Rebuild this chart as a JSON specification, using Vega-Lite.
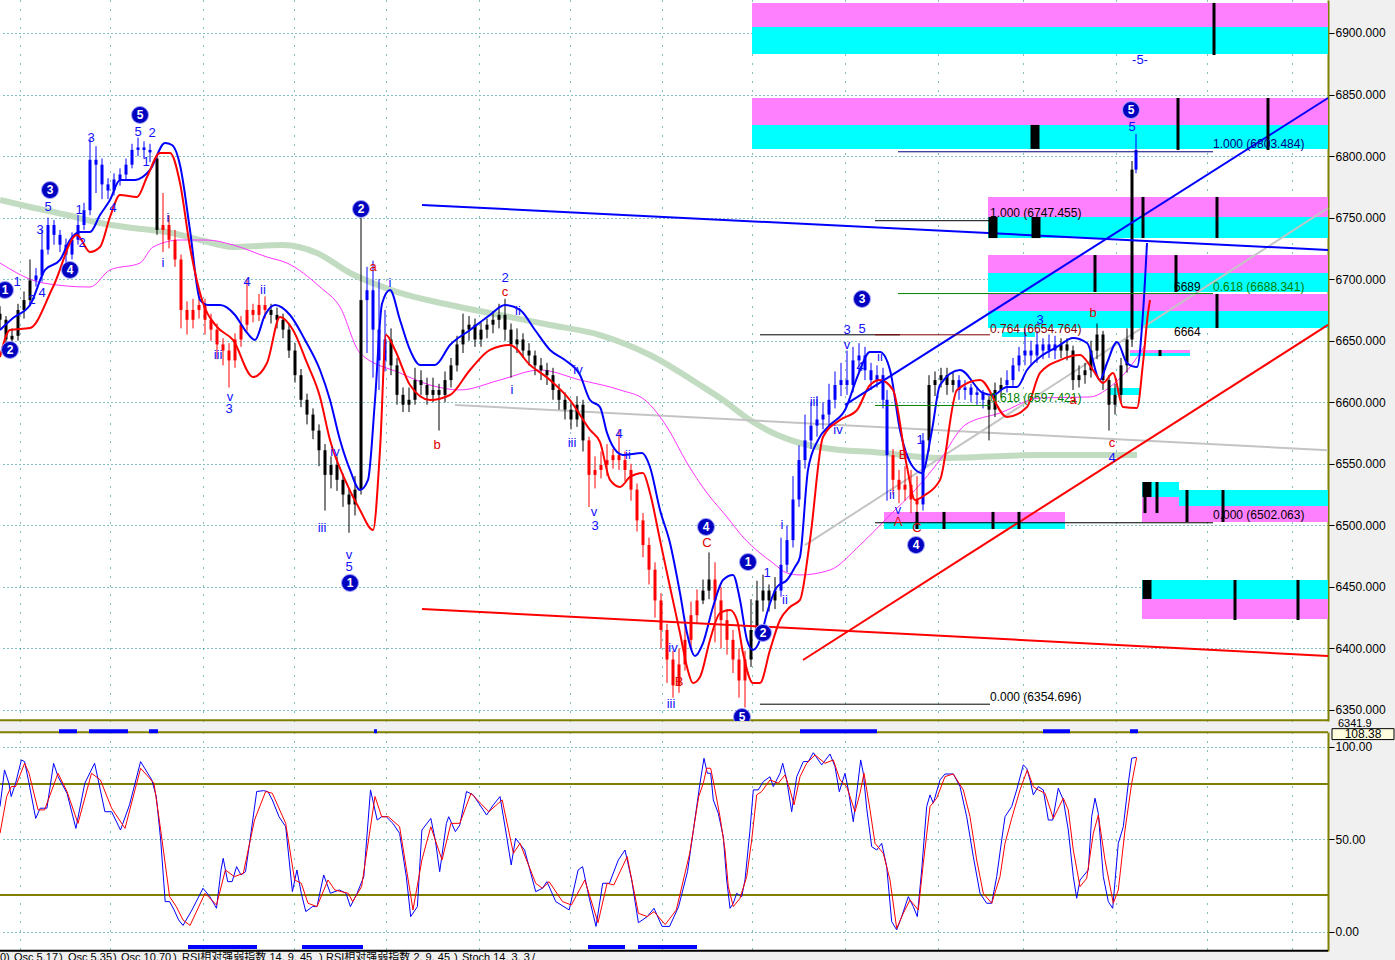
{
"$schema": "https://vega.github.io/schema/vega-lite/v6.json",
"padding": {"left": -12, "top": 0, "right": 0, "bottom": 0},
"background": "#f0f0f0",
"bounds": "flush",
"spacing": 11,
"config": {"view": {"stroke": null, "fill": "white"}, "font": "Liberation Sans"},
"datasets": {
"zones": [
{"t":752,"t2":1328,"v":6904.9,"v2":6924.4,"k":"m"},
{"t":752,"t2":1328,"v":6882.9,"v2":6904.9,"k":"c"},
{"t":752,"t2":1328,"v":6825.3,"v2":6847.2,"k":"m"},
{"t":752,"t2":1328,"v":6805.8,"v2":6825.3,"k":"c"},
{"t":988,"t2":1328,"v":6750.5,"v2":6766.8,"k":"m"},
{"t":988,"t2":1328,"v":6733.4,"v2":6750.5,"k":"c"},
{"t":988,"t2":1328,"v":6705.0,"v2":6719.6,"k":"m"},
{"t":988,"t2":1328,"v":6689.6,"v2":6705.0,"k":"c"},
{"t":988,"t2":1328,"v":6674.1,"v2":6688.0,"k":"m"},
{"t":988,"t2":1328,"v":6660.3,"v2":6674.1,"k":"c"},
{"t":1002,"t2":1035,"v":6653.0,"v2":6657.1,"k":"c"},
{"t":1130,"t2":1190,"v":6640.0,"v2":6642.5,"k":"m"},
{"t":1130,"t2":1190,"v":6637.6,"v2":6640.0,"k":"c"},
{"t":1110,"t2":1140,"v":6605.9,"v2":6611.6,"k":"c"},
{"t":1142,"t2":1179,"v":6523.0,"v2":6535.2,"k":"c"},
{"t":1142,"t2":1179,"v":6502.7,"v2":6523.0,"k":"m"},
{"t":1179,"t2":1328,"v":6515.7,"v2":6528.7,"k":"c"},
{"t":1179,"t2":1328,"v":6502.7,"v2":6515.7,"k":"m"},
{"t":884,"t2":1065,"v":6502.7,"v2":6510.9,"k":"m"},
{"t":884,"t2":1065,"v":6497.0,"v2":6502.7,"k":"c"},
{"t":1142,"t2":1328,"v":6440.2,"v2":6455.6,"k":"c"},
{"t":1142,"t2":1328,"v":6423.9,"v2":6440.2,"k":"m"}
],
"ma": [
{"s":"fast","t":0,"v":6658.7},{"s":"fast","t":13,"v":6668.5},{"s":"fast","t":30,"v":6679},{"s":"fast","t":45,"v":6707.5},{"s":"fast","t":60,"v":6715.6},{"s":"fast","t":70,"v":6731.8},{"s":"fast","t":80,"v":6738.3},{"s":"fast","t":90,"v":6738.3},{"s":"fast","t":100,"v":6752.1},{"s":"fast","t":110,"v":6764.3},{"s":"fast","t":120,"v":6780.6},{"s":"fast","t":135,"v":6780.6},{"s":"fast","t":150,"v":6788.7},{"s":"fast","t":165,"v":6810.6},{"s":"fast","t":172,"v":6809},{"s":"fast","t":180,"v":6792.8},{"s":"fast","t":190,"v":6739.9},{"s":"fast","t":200,"v":6683.1},{"s":"fast","t":208,"v":6679},{"s":"fast","t":220,"v":6679},{"s":"fast","t":235,"v":6670.9},{"s":"fast","t":245,"v":6658.7},{"s":"fast","t":255,"v":6650.6},{"s":"fast","t":265,"v":6670.9},{"s":"fast","t":275,"v":6679},{"s":"fast","t":290,"v":6670.9},{"s":"fast","t":305,"v":6650.6},{"s":"fast","t":320,"v":6626.2},{"s":"fast","t":330,"v":6601.8},{"s":"fast","t":340,"v":6569.3},{"s":"fast","t":350,"v":6545},{"s":"fast","t":360,"v":6528.7},{"s":"fast","t":368,"v":6536.9},{"s":"fast","t":375,"v":6601.8},{"s":"fast","t":382,"v":6680},{"s":"fast","t":390,"v":6691.2},{"s":"fast","t":400,"v":6666.8},{"s":"fast","t":410,"v":6642.5},{"s":"fast","t":420,"v":6630.3},{"s":"fast","t":435,"v":6630.3},{"s":"fast","t":450,"v":6646.5},{"s":"fast","t":470,"v":6658.7},{"s":"fast","t":490,"v":6670.9},{"s":"fast","t":505,"v":6679},{"s":"fast","t":520,"v":6675},{"s":"fast","t":535,"v":6658.7},{"s":"fast","t":550,"v":6642.5},{"s":"fast","t":565,"v":6634.3},{"s":"fast","t":580,"v":6622.1},{"s":"fast","t":590,"v":6601.8},{"s":"fast","t":600,"v":6596.1},{"s":"fast","t":607,"v":6575.1},{"s":"fast","t":617,"v":6559.6},{"s":"fast","t":623,"v":6557.2},{"s":"fast","t":642,"v":6558.8},{"s":"fast","t":650,"v":6547.4},{"s":"fast","t":660,"v":6512.5},{"s":"fast","t":670,"v":6485.7},{"s":"fast","t":680,"v":6445},{"s":"fast","t":687,"v":6412.6},{"s":"fast","t":695,"v":6393.9},{"s":"fast","t":703,"v":6404.4},{"s":"fast","t":713,"v":6433.7},{"s":"fast","t":723,"v":6455.6},{"s":"fast","t":733,"v":6459.7},{"s":"fast","t":740,"v":6439.4},{"s":"fast","t":747,"v":6406.9},{"s":"fast","t":753,"v":6398.7},{"s":"fast","t":760,"v":6406.9},{"s":"fast","t":767,"v":6428.8},{"s":"fast","t":777,"v":6449.9},{"s":"fast","t":787,"v":6455.6},{"s":"fast","t":795,"v":6466.2},{"s":"fast","t":800,"v":6474.3},{"s":"fast","t":808,"v":6545},{"s":"fast","t":818,"v":6569.3},{"s":"fast","t":830,"v":6581.5},{"s":"fast","t":845,"v":6593.7},{"s":"fast","t":858,"v":6622.1},{"s":"fast","t":870,"v":6640.8},{"s":"fast","t":880,"v":6640.8},{"s":"fast","t":890,"v":6626.2},{"s":"fast","t":900,"v":6577.5},{"s":"fast","t":913,"v":6547.4},{"s":"fast","t":922,"v":6542.5},{"s":"fast","t":932,"v":6577.5},{"s":"fast","t":940,"v":6614},{"s":"fast","t":960,"v":6626.2},{"s":"fast","t":983,"v":6607.5},{"s":"fast","t":993,"v":6605.9},{"s":"fast","t":1007,"v":6612.4},{"s":"fast","t":1017,"v":6612.4},{"s":"fast","t":1027,"v":6626.2},{"s":"fast","t":1040,"v":6636.8},{"s":"fast","t":1057,"v":6644.9},{"s":"fast","t":1073,"v":6652.2},{"s":"fast","t":1087,"v":6648.1},{"s":"fast","t":1100,"v":6618.1},{"s":"fast","t":1107,"v":6631.9},{"s":"fast","t":1117,"v":6649},{"s":"fast","t":1127,"v":6631.9},{"s":"fast","t":1137,"v":6628.6},{"s":"fast","t":1143,"v":6672.5},{"s":"fast","t":1147,"v":6729.4},
{"s":"slow","t":0,"v":6636.8},{"s":"slow","t":10,"v":6658.7},{"s":"slow","t":30,"v":6660.3},{"s":"slow","t":53,"v":6693.6},{"s":"slow","t":77,"v":6735.9},{"s":"slow","t":90,"v":6722.1},{"s":"slow","t":100,"v":6726.1},{"s":"slow","t":110,"v":6750.5},{"s":"slow","t":120,"v":6768.4},{"s":"slow","t":137,"v":6766.8},{"s":"slow","t":147,"v":6783},{"s":"slow","t":160,"v":6802.5},{"s":"slow","t":170,"v":6802.5},{"s":"slow","t":180,"v":6778.1},{"s":"slow","t":190,"v":6726.1},{"s":"slow","t":203,"v":6680.6},{"s":"slow","t":217,"v":6661.2},{"s":"slow","t":233,"v":6650.6},{"s":"slow","t":253,"v":6620.5},{"s":"slow","t":267,"v":6631.9},{"s":"slow","t":280,"v":6669.3},{"s":"slow","t":293,"v":6658.7},{"s":"slow","t":307,"v":6631.9},{"s":"slow","t":320,"v":6604.3},{"s":"slow","t":330,"v":6569.3},{"s":"slow","t":345,"v":6536.9},{"s":"slow","t":360,"v":6512.5},{"s":"slow","t":373,"v":6496.2},{"s":"slow","t":380,"v":6561.2},{"s":"slow","t":386,"v":6654.6},{"s":"slow","t":395,"v":6642.5},{"s":"slow","t":410,"v":6614},{"s":"slow","t":430,"v":6601.8},{"s":"slow","t":450,"v":6605.9},{"s":"slow","t":470,"v":6626.2},{"s":"slow","t":490,"v":6642.5},{"s":"slow","t":510,"v":6646.5},{"s":"slow","t":530,"v":6630.3},{"s":"slow","t":550,"v":6618.1},{"s":"slow","t":570,"v":6601.8},{"s":"slow","t":590,"v":6577.5},{"s":"slow","t":600,"v":6567.7},{"s":"slow","t":610,"v":6536.9},{"s":"slow","t":620,"v":6531.2},{"s":"slow","t":630,"v":6539.3},{"s":"slow","t":643,"v":6542.5},{"s":"slow","t":650,"v":6526.3},{"s":"slow","t":660,"v":6488.1},{"s":"slow","t":670,"v":6449.9},{"s":"slow","t":680,"v":6412.6},{"s":"slow","t":687,"v":6384.9},{"s":"slow","t":693,"v":6371.9},{"s":"slow","t":700,"v":6376.8},{"s":"slow","t":710,"v":6406.9},{"s":"slow","t":720,"v":6428.8},{"s":"slow","t":730,"v":6431.2},{"s":"slow","t":737,"v":6423.1},{"s":"slow","t":743,"v":6396.3},{"s":"slow","t":753,"v":6371.9},{"s":"slow","t":760,"v":6371.9},{"s":"slow","t":770,"v":6398.7},{"s":"slow","t":780,"v":6423.1},{"s":"slow","t":790,"v":6433.7},{"s":"slow","t":800,"v":6439.4},{"s":"slow","t":810,"v":6488.1},{"s":"slow","t":823,"v":6571.8},{"s":"slow","t":840,"v":6585.6},{"s":"slow","t":857,"v":6593.7},{"s":"slow","t":870,"v":6614},{"s":"slow","t":880,"v":6618.1},{"s":"slow","t":893,"v":6610},{"s":"slow","t":907,"v":6547.4},{"s":"slow","t":915,"v":6520.6},{"s":"slow","t":925,"v":6524.7},{"s":"slow","t":940,"v":6536.9},{"s":"slow","t":957,"v":6610},{"s":"slow","t":980,"v":6618.1},{"s":"slow","t":1007,"v":6588},{"s":"slow","t":1027,"v":6596.2},{"s":"slow","t":1040,"v":6623.8},{"s":"slow","t":1060,"v":6634.3},{"s":"slow","t":1080,"v":6638.4},{"s":"slow","t":1093,"v":6626.2},{"s":"slow","t":1103,"v":6615.7},{"s":"slow","t":1113,"v":6623.8},{"s":"slow","t":1123,"v":6596.2},{"s":"slow","t":1137,"v":6595.3},{"s":"slow","t":1143,"v":6631.9},{"s":"slow","t":1148,"v":6672.5},{"s":"slow","t":1150,"v":6683.1},
{"s":"mid","t":0,"v":6713.1},{"s":"mid","t":43,"v":6696.9},{"s":"mid","t":90,"v":6693.6},{"s":"mid","t":110,"v":6707.5},{"s":"mid","t":140,"v":6713.1},{"s":"mid","t":153,"v":6726.1},{"s":"mid","t":180,"v":6731.8},{"s":"mid","t":207,"v":6731.8},{"s":"mid","t":233,"v":6727.8},{"s":"mid","t":267,"v":6718},{"s":"mid","t":287,"v":6713.1},{"s":"mid","t":320,"v":6693.6},{"s":"mid","t":340,"v":6677.4},{"s":"mid","t":360,"v":6640},{"s":"mid","t":400,"v":6623.8},{"s":"mid","t":430,"v":6614},{"s":"mid","t":460,"v":6610},{"s":"mid","t":500,"v":6618.1},{"s":"mid","t":540,"v":6626.2},{"s":"mid","t":580,"v":6618.1},{"s":"mid","t":620,"v":6610},{"s":"mid","t":645,"v":6601.8},{"s":"mid","t":667,"v":6579.9},{"s":"mid","t":687,"v":6550.7},{"s":"mid","t":707,"v":6526.3},{"s":"mid","t":727,"v":6506.8},{"s":"mid","t":743,"v":6490.5},{"s":"mid","t":760,"v":6477.5},{"s":"mid","t":773,"v":6469.4},{"s":"mid","t":787,"v":6461.3},{"s":"mid","t":800,"v":6459.7},{"s":"mid","t":830,"v":6463.7},{"s":"mid","t":860,"v":6484},{"s":"mid","t":890,"v":6508.4},{"s":"mid","t":915,"v":6528.7},{"s":"mid","t":940,"v":6553.1},{"s":"mid","t":965,"v":6581.5},{"s":"mid","t":1000,"v":6591.3},{"s":"mid","t":1040,"v":6603.5},{"s":"mid","t":1090,"v":6604.3},{"s":"mid","t":1110,"v":6612.4},{"s":"mid","t":1130,"v":6628.6},{"s":"mid","t":1145,"v":6646.5},
{"s":"long","t":0,"v":6764.3},{"s":"long","t":30,"v":6758.6},{"s":"long","t":67,"v":6752.1},{"s":"long","t":100,"v":6745.6},{"s":"long","t":133,"v":6741.6},{"s":"long","t":167,"v":6738.3},{"s":"long","t":200,"v":6731.8},{"s":"long","t":233,"v":6726.1},{"s":"long","t":283,"v":6727.8},{"s":"long","t":317,"v":6721.3},{"s":"long","t":350,"v":6705},{"s":"long","t":383,"v":6693.6},{"s":"long","t":400,"v":6688.8},{"s":"long","t":450,"v":6679},{"s":"long","t":500,"v":6670.9},{"s":"long","t":550,"v":6662.8},{"s":"long","t":600,"v":6654.6},{"s":"long","t":650,"v":6638.4},{"s":"long","t":700,"v":6614},{"s":"long","t":723,"v":6601.8},{"s":"long","t":750,"v":6585.6},{"s":"long","t":773,"v":6575},{"s":"long","t":800,"v":6566.9},{"s":"long","t":840,"v":6561.2},{"s":"long","t":873,"v":6559.6},{"s":"long","t":940,"v":6554.7},{"s":"long","t":1040,"v":6557.1},{"s":"long","t":1137,"v":6557.1}
],
"candles": [
{"t":0,"o":6672,"c":6667,"v":6660,"v2":6678,"g":"n"},
{"t":6,"o":6667,"c":6651,"v":6645,"v2":6670,"g":"n"},
{"t":12,"o":6651,"c":6654,"v":6640,"v2":6660,"g":"n"},
{"t":18,"o":6654,"c":6675,"v":6650,"v2":6680,"g":"n"},
{"t":24,"o":6675,"c":6683,"v":6668,"v2":6690,"g":"n"},
{"t":30,"o":6683,"c":6699,"v":6678,"v2":6716,"g":"n"},
{"t":36,"o":6699,"c":6703,"v":6694,"v2":6709,"g":"u"},
{"t":42,"o":6703,"c":6724,"v":6698,"v2":6740,"g":"u"},
{"t":48,"o":6724,"c":6744,"v":6720,"v2":6750,"g":"u"},
{"t":54,"o":6744,"c":6736,"v":6728,"v2":6748,"g":"u"},
{"t":60,"o":6736,"c":6728,"v":6722,"v2":6740,"g":"u"},
{"t":66,"o":6728,"c":6720,"v":6712,"v2":6733,"g":"u"},
{"t":72,"o":6720,"c":6732,"v":6716,"v2":6738,"g":"u"},
{"t":78,"o":6732,"c":6744,"v":6728,"v2":6752,"g":"u"},
{"t":84,"o":6744,"c":6756,"v":6740,"v2":6762,"g":"u"},
{"t":90,"o":6756,"c":6797,"v":6752,"v2":6815,"g":"u"},
{"t":96,"o":6797,"c":6793,"v":6770,"v2":6808,"g":"u"},
{"t":102,"o":6793,"c":6777,"v":6765,"v2":6798,"g":"u"},
{"t":108,"o":6777,"c":6772,"v":6765,"v2":6782,"g":"u"},
{"t":114,"o":6772,"c":6781,"v":6768,"v2":6786,"g":"u"},
{"t":120,"o":6781,"c":6785,"v":6776,"v2":6790,"g":"u"},
{"t":126,"o":6785,"c":6793,"v":6780,"v2":6798,"g":"u"},
{"t":132,"o":6793,"c":6805,"v":6790,"v2":6810,"g":"u"},
{"t":138,"o":6805,"c":6807,"v":6800,"v2":6815,"g":"u"},
{"t":144,"o":6807,"c":6805,"v":6798,"v2":6812,"g":"u"},
{"t":150,"o":6805,"c":6803,"v":6795,"v2":6810,"g":"u"},
{"t":157,"o":6798,"c":6740,"v":6736,"v2":6800,"g":"n"},
{"t":163,"o":6740,"c":6744,"v":6722,"v2":6770,"g":"d"},
{"t":169,"o":6744,"c":6732,"v":6725,"v2":6752,"g":"d"},
{"t":175,"o":6732,"c":6716,"v":6710,"v2":6740,"g":"d"},
{"t":181,"o":6716,"c":6675,"v":6660,"v2":6720,"g":"d"},
{"t":187,"o":6675,"c":6667,"v":6655,"v2":6682,"g":"d"},
{"t":193,"o":6667,"c":6675,"v":6660,"v2":6684,"g":"d"},
{"t":199,"o":6675,"c":6679,"v":6668,"v2":6688,"g":"d"},
{"t":205,"o":6679,"c":6667,"v":6655,"v2":6684,"g":"d"},
{"t":211,"o":6667,"c":6659,"v":6650,"v2":6672,"g":"d"},
{"t":217,"o":6659,"c":6647,"v":6635,"v2":6664,"g":"d"},
{"t":223,"o":6647,"c":6642,"v":6630,"v2":6652,"g":"d"},
{"t":229,"o":6642,"c":6634,"v":6612,"v2":6648,"g":"d"},
{"t":235,"o":6634,"c":6651,"v":6628,"v2":6656,"g":"d"},
{"t":241,"o":6651,"c":6663,"v":6645,"v2":6670,"g":"d"},
{"t":247,"o":6663,"c":6675,"v":6658,"v2":6700,"g":"d"},
{"t":253,"o":6675,"c":6671,"v":6665,"v2":6680,"g":"d"},
{"t":259,"o":6671,"c":6679,"v":6666,"v2":6688,"g":"d"},
{"t":265,"o":6679,"c":6675,"v":6668,"v2":6686,"g":"d"},
{"t":271,"o":6675,"c":6671,"v":6664,"v2":6680,"g":"n"},
{"t":277,"o":6671,"c":6667,"v":6660,"v2":6677,"g":"n"},
{"t":283,"o":6667,"c":6659,"v":6652,"v2":6672,"g":"n"},
{"t":289,"o":6659,"c":6642,"v":6636,"v2":6664,"g":"n"},
{"t":295,"o":6642,"c":6622,"v":6616,"v2":6648,"g":"n"},
{"t":301,"o":6622,"c":6602,"v":6596,"v2":6627,"g":"n"},
{"t":307,"o":6602,"c":6590,"v":6582,"v2":6607,"g":"n"},
{"t":313,"o":6590,"c":6577,"v":6570,"v2":6595,"g":"n"},
{"t":319,"o":6577,"c":6561,"v":6548,"v2":6582,"g":"n"},
{"t":325,"o":6561,"c":6541,"v":6512,"v2":6566,"g":"n"},
{"t":331,"o":6541,"c":6549,"v":6530,"v2":6556,"g":"n"},
{"t":337,"o":6549,"c":6537,"v":6528,"v2":6556,"g":"n"},
{"t":343,"o":6537,"c":6525,"v":6515,"v2":6542,"g":"n"},
{"t":349,"o":6525,"c":6517,"v":6494,"v2":6530,"g":"n"},
{"t":355,"o":6517,"c":6529,"v":6508,"v2":6540,"g":"n"},
{"t":361,"o":6529,"c":6683,"v":6525,"v2":6752,"g":"n"},
{"t":367,"o":6683,"c":6691,"v":6640,"v2":6710,"g":"u"},
{"t":373,"o":6691,"c":6659,"v":6620,"v2":6715,"g":"u"},
{"t":379,"o":6659,"c":6634,"v":6610,"v2":6700,"g":"u"},
{"t":385,"o":6634,"c":6651,"v":6625,"v2":6675,"g":"u"},
{"t":391,"o":6651,"c":6630,"v":6622,"v2":6660,"g":"n"},
{"t":397,"o":6630,"c":6606,"v":6598,"v2":6636,"g":"n"},
{"t":403,"o":6606,"c":6598,"v":6592,"v2":6612,"g":"n"},
{"t":409,"o":6598,"c":6602,"v":6592,"v2":6612,"g":"n"},
{"t":415,"o":6602,"c":6618,"v":6598,"v2":6628,"g":"n"},
{"t":421,"o":6618,"c":6614,"v":6606,"v2":6626,"g":"n"},
{"t":427,"o":6614,"c":6606,"v":6598,"v2":6620,"g":"n"},
{"t":433,"o":6606,"c":6610,"v":6600,"v2":6620,"g":"n"},
{"t":439,"o":6610,"c":6606,"v":6577,"v2":6615,"g":"n"},
{"t":445,"o":6606,"c":6618,"v":6600,"v2":6625,"g":"n"},
{"t":451,"o":6618,"c":6630,"v":6612,"v2":6636,"g":"n"},
{"t":457,"o":6630,"c":6647,"v":6625,"v2":6654,"g":"n"},
{"t":463,"o":6647,"c":6659,"v":6640,"v2":6672,"g":"n"},
{"t":469,"o":6659,"c":6663,"v":6650,"v2":6670,"g":"n"},
{"t":475,"o":6663,"c":6651,"v":6645,"v2":6668,"g":"n"},
{"t":481,"o":6651,"c":6659,"v":6645,"v2":6665,"g":"n"},
{"t":487,"o":6659,"c":6663,"v":6652,"v2":6668,"g":"n"},
{"t":493,"o":6663,"c":6667,"v":6656,"v2":6674,"g":"n"},
{"t":499,"o":6667,"c":6671,"v":6660,"v2":6680,"g":"n"},
{"t":505,"o":6671,"c":6659,"v":6650,"v2":6684,"g":"n"},
{"t":511,"o":6659,"c":6647,"v":6620,"v2":6664,"g":"n"},
{"t":517,"o":6647,"c":6651,"v":6640,"v2":6660,"g":"n"},
{"t":523,"o":6651,"c":6642,"v":6636,"v2":6656,"g":"n"},
{"t":529,"o":6642,"c":6638,"v":6630,"v2":6648,"g":"n"},
{"t":535,"o":6638,"c":6630,"v":6622,"v2":6642,"g":"n"},
{"t":541,"o":6630,"c":6626,"v":6618,"v2":6636,"g":"n"},
{"t":547,"o":6626,"c":6622,"v":6614,"v2":6632,"g":"n"},
{"t":553,"o":6622,"c":6610,"v":6602,"v2":6628,"g":"n"},
{"t":559,"o":6610,"c":6602,"v":6594,"v2":6615,"g":"n"},
{"t":565,"o":6602,"c":6594,"v":6586,"v2":6608,"g":"n"},
{"t":571,"o":6594,"c":6586,"v":6578,"v2":6600,"g":"n"},
{"t":577,"o":6586,"c":6598,"v":6580,"v2":6605,"g":"n"},
{"t":583,"o":6598,"c":6569,"v":6560,"v2":6602,"g":"n"},
{"t":589,"o":6569,"c":6541,"v":6515,"v2":6572,"g":"d"},
{"t":595,"o":6541,"c":6545,"v":6530,"v2":6556,"g":"d"},
{"t":601,"o":6545,"c":6549,"v":6538,"v2":6560,"g":"d"},
{"t":607,"o":6549,"c":6553,"v":6540,"v2":6566,"g":"d"},
{"t":613,"o":6553,"c":6557,"v":6546,"v2":6562,"g":"d"},
{"t":619,"o":6557,"c":6553,"v":6545,"v2":6578,"g":"d"},
{"t":625,"o":6553,"c":6545,"v":6536,"v2":6560,"g":"d"},
{"t":631,"o":6545,"c":6529,"v":6520,"v2":6550,"g":"d"},
{"t":637,"o":6529,"c":6504,"v":6495,"v2":6534,"g":"d"},
{"t":643,"o":6504,"c":6484,"v":6474,"v2":6510,"g":"d"},
{"t":649,"o":6484,"c":6464,"v":6452,"v2":6490,"g":"d"},
{"t":655,"o":6464,"c":6439,"v":6425,"v2":6470,"g":"d"},
{"t":661,"o":6439,"c":6415,"v":6400,"v2":6445,"g":"d"},
{"t":667,"o":6415,"c":6391,"v":6372,"v2":6420,"g":"d"},
{"t":673,"o":6391,"c":6370,"v":6360,"v2":6398,"g":"d"},
{"t":679,"o":6370,"c":6387,"v":6364,"v2":6400,"g":"d"},
{"t":685,"o":6387,"c":6407,"v":6382,"v2":6420,"g":"d"},
{"t":691,"o":6407,"c":6427,"v":6400,"v2":6438,"g":"d"},
{"t":697,"o":6427,"c":6439,"v":6420,"v2":6448,"g":"d"},
{"t":703,"o":6439,"c":6447,"v":6436,"v2":6456,"g":"n"},
{"t":709,"o":6447,"c":6456,"v":6440,"v2":6478,"g":"n"},
{"t":715,"o":6456,"c":6439,"v":6405,"v2":6470,"g":"d"},
{"t":721,"o":6439,"c":6423,"v":6400,"v2":6450,"g":"d"},
{"t":727,"o":6423,"c":6407,"v":6395,"v2":6432,"g":"d"},
{"t":733,"o":6407,"c":6391,"v":6380,"v2":6415,"g":"d"},
{"t":739,"o":6391,"c":6374,"v":6360,"v2":6400,"g":"d"},
{"t":745,"o":6374,"c":6391,"v":6352,"v2":6398,"g":"d"},
{"t":751,"o":6391,"c":6415,"v":6385,"v2":6440,"g":"n"},
{"t":757,"o":6415,"c":6439,"v":6410,"v2":6455,"g":"n"},
{"t":763,"o":6439,"c":6447,"v":6430,"v2":6460,"g":"n"},
{"t":769,"o":6447,"c":6439,"v":6430,"v2":6452,"g":"n"},
{"t":775,"o":6439,"c":6447,"v":6432,"v2":6458,"g":"n"},
{"t":781,"o":6447,"c":6468,"v":6442,"v2":6490,"g":"u"},
{"t":787,"o":6468,"c":6488,"v":6462,"v2":6500,"g":"u"},
{"t":793,"o":6488,"c":6521,"v":6482,"v2":6540,"g":"u"},
{"t":799,"o":6521,"c":6553,"v":6515,"v2":6565,"g":"u"},
{"t":805,"o":6553,"c":6569,"v":6546,"v2":6590,"g":"u"},
{"t":811,"o":6569,"c":6581,"v":6562,"v2":6600,"g":"u"},
{"t":817,"o":6581,"c":6586,"v":6572,"v2":6605,"g":"u"},
{"t":823,"o":6586,"c":6590,"v":6578,"v2":6600,"g":"u"},
{"t":829,"o":6590,"c":6602,"v":6580,"v2":6615,"g":"u"},
{"t":835,"o":6602,"c":6614,"v":6595,"v2":6625,"g":"u"},
{"t":841,"o":6614,"c":6618,"v":6605,"v2":6632,"g":"u"},
{"t":847,"o":6618,"c":6614,"v":6606,"v2":6642,"g":"u"},
{"t":853,"o":6614,"c":6634,"v":6608,"v2":6645,"g":"u"},
{"t":859,"o":6634,"c":6638,"v":6625,"v2":6648,"g":"u"},
{"t":865,"o":6638,"c":6626,"v":6618,"v2":6645,"g":"u"},
{"t":871,"o":6626,"c":6618,"v":6610,"v2":6632,"g":"u"},
{"t":877,"o":6618,"c":6622,"v":6612,"v2":6630,"g":"u"},
{"t":883,"o":6622,"c":6602,"v":6595,"v2":6628,"g":"u"},
{"t":887,"o":6602,"c":6557,"v":6520,"v2":6610,"g":"u"},
{"t":893,"o":6557,"c":6537,"v":6525,"v2":6562,"g":"d"},
{"t":899,"o":6537,"c":6529,"v":6518,"v2":6545,"g":"d"},
{"t":905,"o":6529,"c":6533,"v":6520,"v2":6548,"g":"d"},
{"t":911,"o":6533,"c":6521,"v":6510,"v2":6545,"g":"d"},
{"t":917,"o":6521,"c":6517,"v":6498,"v2":6540,"g":"d"},
{"t":923,"o":6517,"c":6569,"v":6512,"v2":6575,"g":"u"},
{"t":929,"o":6569,"c":6614,"v":6560,"v2":6622,"g":"n"},
{"t":935,"o":6614,"c":6618,"v":6605,"v2":6625,"g":"n"},
{"t":941,"o":6618,"c":6622,"v":6612,"v2":6628,"g":"n"},
{"t":947,"o":6622,"c":6614,"v":6606,"v2":6628,"g":"n"},
{"t":953,"o":6614,"c":6618,"v":6608,"v2":6624,"g":"n"},
{"t":959,"o":6618,"c":6610,"v":6602,"v2":6622,"g":"u"},
{"t":965,"o":6610,"c":6612,"v":6602,"v2":6618,"g":"u"},
{"t":971,"o":6612,"c":6606,"v":6600,"v2":6615,"g":"u"},
{"t":977,"o":6606,"c":6608,"v":6598,"v2":6612,"g":"u"},
{"t":983,"o":6608,"c":6602,"v":6595,"v2":6610,"g":"u"},
{"t":989,"o":6602,"c":6594,"v":6569,"v2":6605,"g":"n"},
{"t":995,"o":6594,"c":6610,"v":6588,"v2":6616,"g":"n"},
{"t":1001,"o":6610,"c":6614,"v":6604,"v2":6620,"g":"n"},
{"t":1007,"o":6614,"c":6618,"v":6608,"v2":6626,"g":"u"},
{"t":1013,"o":6618,"c":6630,"v":6612,"v2":6636,"g":"u"},
{"t":1019,"o":6630,"c":6638,"v":6625,"v2":6645,"g":"u"},
{"t":1025,"o":6638,"c":6642,"v":6630,"v2":6660,"g":"u"},
{"t":1031,"o":6642,"c":6638,"v":6630,"v2":6650,"g":"u"},
{"t":1037,"o":6638,"c":6647,"v":6632,"v2":6658,"g":"u"},
{"t":1043,"o":6647,"c":6642,"v":6635,"v2":6652,"g":"u"},
{"t":1049,"o":6642,"c":6647,"v":6636,"v2":6655,"g":"u"},
{"t":1055,"o":6647,"c":6642,"v":6635,"v2":6654,"g":"u"},
{"t":1061,"o":6642,"c":6647,"v":6636,"v2":6652,"g":"n"},
{"t":1067,"o":6647,"c":6642,"v":6634,"v2":6652,"g":"n"},
{"t":1073,"o":6642,"c":6618,"v":6610,"v2":6646,"g":"n"},
{"t":1079,"o":6618,"c":6622,"v":6612,"v2":6630,"g":"n"},
{"t":1085,"o":6622,"c":6626,"v":6615,"v2":6632,"g":"n"},
{"t":1091,"o":6626,"c":6642,"v":6620,"v2":6650,"g":"n"},
{"t":1097,"o":6642,"c":6655,"v":6635,"v2":6664,"g":"n"},
{"t":1103,"o":6655,"c":6618,"v":6610,"v2":6658,"g":"n"},
{"t":1109,"o":6618,"c":6598,"v":6577,"v2":6622,"g":"n"},
{"t":1115,"o":6598,"c":6606,"v":6590,"v2":6615,"g":"n"},
{"t":1121,"o":6606,"c":6630,"v":6600,"v2":6636,"g":"n"},
{"t":1127,"o":6630,"c":6651,"v":6624,"v2":6660,"g":"n"},
{"t":1132,"o":6651,"c":6789,"v":6645,"v2":6796,"g":"n"},
{"t":1136,"o":6789,"c":6805,"v":6786,"v2":6818,"g":"u"}
],
"trend": [
{"t":422,"v":6760.3,"t2":1328,"v2":6723.7,"k":"b"},
{"t":845,"v":6597.8,"t2":1328,"v2":6847.2,"k":"b"},
{"t":803,"v":6390.6,"t2":1328,"v2":6662.8,"k":"r"},
{"t":422,"v":6432.1,"t2":1328,"v2":6393.9,"k":"r"},
{"t":455,"v":6597.8,"t2":1328,"v2":6561.0,"k":"g"},
{"t":805,"v":6484.0,"t2":1328,"v2":6757.8,"k":"g"}
],
"fib": [
{"t":898,"t2":1213,"v":6803.5,"k":"a"},
{"t":875,"t2":990,"v":6747.5,"k":"b"},
{"t":898,"t2":1213,"v":6688.3,"k":"c"},
{"t":760,"t2":900,"v":6654.8,"k":"b"},
{"t":875,"t2":990,"v":6654.8,"k":"d"},
{"t":875,"t2":990,"v":6597.4,"k":"c"},
{"t":875,"t2":1213,"v":6502.1,"k":"b"},
{"t":760,"t2":990,"v":6354.7,"k":"b"}
],
"fibtext": [
{"t":1213,"v":6809.8,"txt":"1.000 (6803.484)","k":"a"},
{"t":990,"v":6753.8,"txt":"1.000 (6747.455)","k":"b"},
{"t":1174,"v":6693.6,"txt":"6689","k":"b"},
{"t":1213,"v":6693.6,"txt":"0.618 (6688.341)","k":"c"},
{"t":990,"v":6659.5,"txt":"0.764 (6654.764)","k":"d"},
{"t":1174,"v":6657.1,"txt":"6664","k":"b"},
{"t":990,"v":6603.5,"txt":"0.618 (6597.421)","k":"c"},
{"t":1213,"v":6508.4,"txt":"0.000 (6502.063)","k":"b"},
{"t":990,"v":6360.6,"txt":"0.000 (6354.696)","k":"b"}
],
"ticks": [
{"t":1214,"v":6882.1,"v2":6924.4,"w":"thin"},
{"t":1178,"v":6805.0,"v2":6847.2,"w":"thin"},
{"t":1268,"v":6805.0,"v2":6847.2,"w":"thin"},
{"t":1143,"v":6733.4,"v2":6766.8,"w":"thin"},
{"t":1217,"v":6733.4,"v2":6766.8,"w":"thin"},
{"t":1095,"v":6689.6,"v2":6719.6,"w":"thin"},
{"t":1176,"v":6689.6,"v2":6719.6,"w":"thin"},
{"t":1217,"v":6660.3,"v2":6688.0,"w":"thin"},
{"t":1145,"v":6510.0,"v2":6535.2,"w":"thin"},
{"t":1157,"v":6510.0,"v2":6535.2,"w":"thin"},
{"t":1187,"v":6502.7,"v2":6528.7,"w":"thin"},
{"t":1223,"v":6502.7,"v2":6528.7,"w":"thin"},
{"t":1235,"v":6423.1,"v2":6455.6,"w":"thin"},
{"t":1298,"v":6423.1,"v2":6455.6,"w":"thin"},
{"t":917,"v":6497.0,"v2":6510.9,"w":"thin"},
{"t":944,"v":6497.0,"v2":6510.9,"w":"thin"},
{"t":993,"v":6497.0,"v2":6510.9,"w":"thin"},
{"t":1019,"v":6497.0,"v2":6510.9,"w":"thin"},
{"t":1160,"v":6637.6,"v2":6642.5,"w":"thin"},
{"t":1035,"v":6805.8,"v2":6825.3,"w":"thick"},
{"t":993,"v":6733.4,"v2":6750.5,"w":"thick"},
{"t":1036,"v":6733.4,"v2":6750.5,"w":"thick"},
{"t":1147,"v":6523.0,"v2":6535.2,"w":"thick"},
{"t":1147,"v":6440.2,"v2":6455.6,"w":"thick"}
],
"waves": [
{"t":17,"v":6697.7,"txt":"1","k":"u"},{"t":32,"v":6683.1,"txt":"2","k":"u"},{"t":42,"v":6688.8,"txt":"4","k":"u"},{"t":40,"v":6739.9,"txt":"3","k":"u"},{"t":48,"v":6758.6,"txt":"5","k":"u"},{"t":79,"v":6756.2,"txt":"1","k":"u"},{"t":82,"v":6729.4,"txt":"2","k":"u"},{"t":113,"v":6757.8,"txt":"4","k":"u"},{"t":91,"v":6814.7,"txt":"3","k":"u"},{"t":138,"v":6819.6,"txt":"5","k":"u"},{"t":152,"v":6818.7,"txt":"2","k":"u"},{"t":146,"v":6795.2,"txt":"1","k":"u"},{"t":168,"v":6749.7,"txt":"i","k":"u"},{"t":163,"v":6713.1,"txt":"i","k":"u"},{"t":247,"v":6697.7,"txt":"4","k":"u"},{"t":263,"v":6691.2,"txt":"ii","k":"u"},{"t":218,"v":6638.4,"txt":"iii","k":"u"},{"t":230,"v":6604.3,"txt":"v","k":"u"},{"t":229,"v":6594.5,"txt":"3","k":"u"},{"t":335,"v":6559.6,"txt":"iv","k":"u"},{"t":322,"v":6497.9,"txt":"iii","k":"u"},{"t":349,"v":6475.9,"txt":"v","k":"u"},{"t":349,"v":6466.2,"txt":"5","k":"u"},{"t":390,"v":6696.9,"txt":"i","k":"u"},{"t":505,"v":6701.0,"txt":"2","k":"u"},{"t":518,"v":6674.1,"txt":"ii","k":"u"},{"t":512,"v":6610.0,"txt":"i","k":"u"},{"t":578,"v":6626.2,"txt":"iv","k":"u"},{"t":572,"v":6566.9,"txt":"iii","k":"u"},{"t":594,"v":6510.9,"txt":"v","k":"u"},{"t":595,"v":6499.5,"txt":"3","k":"u"},{"t":619,"v":6574.2,"txt":"4","k":"u"},{"t":628,"v":6557.2,"txt":"ii","k":"u"},{"t":673,"v":6400.4,"txt":"iv","k":"u"},{"t":671,"v":6354.9,"txt":"iii","k":"u"},{"t":767,"v":6461.3,"txt":"1","k":"u"},{"t":782,"v":6500.3,"txt":"i","k":"u"},{"t":785,"v":6439.4,"txt":"ii","k":"u"},{"t":814,"v":6600.2,"txt":"iii","k":"u"},{"t":838,"v":6577.5,"txt":"iv","k":"u"},{"t":847,"v":6658.7,"txt":"3","k":"u"},{"t":847,"v":6646.5,"txt":"v","k":"u"},{"t":862,"v":6659.5,"txt":"5","k":"u"},{"t":860,"v":6628.6,"txt":"4","k":"u"},{"t":880,"v":6636.8,"txt":"ii","k":"u"},{"t":892,"v":6524.7,"txt":"ii","k":"u"},{"t":898,"v":6512.5,"txt":"v","k":"u"},{"t":920,"v":6569.3,"txt":"1","k":"u"},{"t":1040,"v":6666.8,"txt":"3","k":"u"},{"t":1112,"v":6554.7,"txt":"4","k":"u"},{"t":1132,"v":6823.6,"txt":"5","k":"u"},{"t":1140,"v":6878.1,"txt":"-5-","k":"u"},
{"t":373,"v":6709.9,"txt":"a","k":"r"},{"t":505,"v":6689.6,"txt":"c","k":"r"},{"t":437,"v":6565.3,"txt":"b","k":"r"},{"t":707,"v":6485.7,"txt":"C","k":"r"},{"t":679,"v":6372.7,"txt":"B","k":"r"},{"t":898,"v":6502.7,"txt":"A","k":"r"},{"t":903,"v":6557.2,"txt":"B","k":"r"},{"t":917,"v":6497.9,"txt":"C","k":"r"},{"t":1093,"v":6672.5,"txt":"b","k":"r"},{"t":1073,"v":6601.8,"txt":"a","k":"r"},{"t":1112,"v":6566.9,"txt":"c","k":"r"}
],
"circles": [
{"t":5,"v":6691.2,"txt":"1"},{"t":10,"v":6642.5,"txt":"2"},{"t":50,"v":6772.4,"txt":"3"},{"t":70,"v":6707.5,"txt":"4"},{"t":140,"v":6833.4,"txt":"5"},{"t":361,"v":6757.0,"txt":"2"},{"t":350,"v":6453.2,"txt":"1"},{"t":706,"v":6498.7,"txt":"4"},{"t":748,"v":6470.2,"txt":"1"},{"t":763,"v":6412.6,"txt":"2"},{"t":742,"v":6344.3,"txt":"5"},{"t":862,"v":6683.9,"txt":"3"},{"t":916,"v":6484.0,"txt":"4"},{"t":1131,"v":6837.4,"txt":"5"}
],
"uframe": [
{"t":0,"t2":1328,"v":6341.6}
],
"side": [
{"t":1338,"v":6339.0,"txt":"6341.9"}
],
"lframe": [
{"t":0,"t2":1328,"v":80,"k":"o"},
{"t":0,"t2":1328,"v":20,"k":"o"},
{"t":0,"t2":1328,"v":107.9,"k":"o"},
{"t":0,"t2":1328,"v":-10.1,"k":"k"}
],
"ind": [
{"t":59,"t2":77,"v":108.5},{"t":89,"t2":128,"v":108.5},{"t":149,"t2":158,"v":108.5},{"t":374,"t2":377,"v":108.5},{"t":800,"t2":877,"v":108.5},{"t":1043,"t2":1070,"v":108.5},{"t":1130,"t2":1138,"v":108.5},
{"t":188,"t2":257,"v":-8.1},{"t":302,"t2":363,"v":-8.1},{"t":588,"t2":625,"v":-8.1},{"t":638,"t2":697,"v":-8.1}
],
"box": [
{"t":1332,"t2":1394,"v":104.0,"v2":109.9}
],
"boxtext": [
{"t":1363,"v":106.9,"txt":"108.38"}
],
"tabs": [
{"t":0,"v":-10.9,"txt":"0)"},{"t":14,"v":-10.9,"txt":"Osc 5,17"},{"t":59,"v":-10.9,"txt":")"},{"t":68,"v":-10.9,"txt":"Osc 5,35"},{"t":113,"v":-10.9,"txt":")"},{"t":121,"v":-10.9,"txt":"Osc 10,70"},{"t":173,"v":-10.9,"txt":")"},{"t":182,"v":-10.9,"txt":"RSI相对强弱指数 14, 9, 45"},{"t":319,"v":-10.9,"txt":")"},{"t":326,"v":-10.9,"txt":"RSI相对强弱指数 2, 9, 45"},{"t":454,"v":-10.9,"txt":")"},{"t":462,"v":-10.9,"txt":"Stoch 14, 3, 3"},{"t":532,"v":-10.9,"txt":"/"}
],
"stoch": [
{"s":"K","t":0,"v":67.8},{"s":"K","t":4.5,"v":87.6},{"s":"K","t":8.9,"v":80.4},{"s":"K","t":11.2,"v":73.2},{"s":"K","t":15.6,"v":80.4},{"s":"K","t":21.4,"v":93},{"s":"K","t":24.6,"v":92.1},{"s":"K","t":29,"v":80.4},{"s":"K","t":35.7,"v":61.4},{"s":"K","t":40.2,"v":66.9},{"s":"K","t":46.9,"v":66.9},{"s":"K","t":53.6,"v":91.2},{"s":"K","t":58,"v":84},{"s":"K","t":67,"v":75},{"s":"K","t":75.9,"v":56},{"s":"K","t":84.8,"v":80.4},{"s":"K","t":94.6,"v":91.2},{"s":"K","t":98.2,"v":82.2},{"s":"K","t":104.9,"v":65},{"s":"K","t":111.6,"v":65},{"s":"K","t":120.5,"v":55.1},{"s":"K","t":129.5,"v":68.7},{"s":"K","t":140.6,"v":92.1},{"s":"K","t":151.8,"v":82.2},{"s":"K","t":156.3,"v":73.2},{"s":"K","t":160.7,"v":49.7},{"s":"K","t":165.2,"v":16.4},{"s":"K","t":169.6,"v":16.4},{"s":"K","t":174.1,"v":11.9},{"s":"K","t":178.6,"v":6.5},{"s":"K","t":183,"v":3.5},{"s":"K","t":192,"v":11.9},{"s":"K","t":203,"v":23.6},{"s":"K","t":209.8,"v":19.1},{"s":"K","t":216.5,"v":12.8},{"s":"K","t":221,"v":33.5},{"s":"K","t":223.2,"v":39.8},{"s":"K","t":227.7,"v":27.2},{"s":"K","t":232.1,"v":27.2},{"s":"K","t":236.6,"v":35.3},{"s":"K","t":241,"v":30.8},{"s":"K","t":245.5,"v":32.6},{"s":"K","t":250,"v":49.7},{"s":"K","t":256.7,"v":75.9},{"s":"K","t":263.4,"v":76.4},{"s":"K","t":267.9,"v":75.9},{"s":"K","t":272.3,"v":71.4},{"s":"K","t":279,"v":62.3},{"s":"K","t":285.7,"v":56.9},{"s":"K","t":292.4,"v":21.8},{"s":"K","t":296.9,"v":33.5},{"s":"K","t":301.3,"v":20.9},{"s":"K","t":305.8,"v":11},{"s":"K","t":312.5,"v":13.7},{"s":"K","t":317,"v":13.7},{"s":"K","t":323.7,"v":30.8},{"s":"K","t":330.4,"v":20.9},{"s":"K","t":339.3,"v":22.7},{"s":"K","t":346,"v":20.9},{"s":"K","t":350.4,"v":13.7},{"s":"K","t":357.1,"v":20.9},{"s":"K","t":363.8,"v":29.9},{"s":"K","t":370.5,"v":76.8},{"s":"K","t":377.2,"v":60.5},{"s":"K","t":381.7,"v":62.3},{"s":"K","t":386.2,"v":62.3},{"s":"K","t":392.9,"v":58.7},{"s":"K","t":399.6,"v":53.3},{"s":"K","t":406.3,"v":29.9},{"s":"K","t":410.7,"v":8.3},{"s":"K","t":417.4,"v":13.7},{"s":"K","t":421.9,"v":55.1},{"s":"K","t":430.8,"v":61.4},{"s":"K","t":435.3,"v":49.7},{"s":"K","t":439.7,"v":32.6},{"s":"K","t":446.4,"v":58.7},{"s":"K","t":448.7,"v":62.3},{"s":"K","t":455.4,"v":54.2},{"s":"K","t":459.8,"v":57.8},{"s":"K","t":466.5,"v":75.9},{"s":"K","t":473.2,"v":74.1},{"s":"K","t":479.9,"v":68.7},{"s":"K","t":486.6,"v":63.2},{"s":"K","t":493.3,"v":68.7},{"s":"K","t":500,"v":73.2},{"s":"K","t":506.7,"v":51.5},{"s":"K","t":511.2,"v":36.2},{"s":"K","t":515.6,"v":50.6},{"s":"K","t":524.6,"v":44.3},{"s":"K","t":535.7,"v":21.8},{"s":"K","t":542.4,"v":23.6},{"s":"K","t":546.9,"v":27.2},{"s":"K","t":555.8,"v":16.4},{"s":"K","t":569.2,"v":11.9},{"s":"K","t":578.1,"v":33.5},{"s":"K","t":582.6,"v":35.3},{"s":"K","t":589.3,"v":18.2},{"s":"K","t":596,"v":3},{"s":"K","t":602.7,"v":26.3},{"s":"K","t":609.4,"v":26.3},{"s":"K","t":618.3,"v":38.9},{"s":"K","t":625,"v":44.3},{"s":"K","t":631.7,"v":28.1},{"s":"K","t":638.4,"v":5},{"s":"K","t":647.3,"v":8.3},{"s":"K","t":654,"v":12.8},{"s":"K","t":662,"v":3},{"s":"K","t":669.6,"v":3},{"s":"K","t":678.6,"v":13.7},{"s":"K","t":687.5,"v":32.6},{"s":"K","t":700,"v":80.4},{"s":"K","t":704,"v":93.9},{"s":"K","t":707.3,"v":85.8},{"s":"K","t":710.7,"v":85.8},{"s":"K","t":713.3,"v":71.4},{"s":"K","t":718.3,"v":64.1},{"s":"K","t":723.3,"v":51.5},{"s":"K","t":726.7,"v":28.1},{"s":"K","t":730,"v":12.8},{"s":"K","t":733.3,"v":15.5},{"s":"K","t":736.7,"v":20.9},{"s":"K","t":741.7,"v":19.1},{"s":"K","t":745,"v":28.1},{"s":"K","t":750,"v":55.1},{"s":"K","t":753.3,"v":76.8},{"s":"K","t":758.3,"v":76.8},{"s":"K","t":763.3,"v":81.3},{"s":"K","t":770,"v":83.9},{"s":"K","t":773.3,"v":78.6},{"s":"K","t":780,"v":85.8},{"s":"K","t":782.7,"v":91.2},{"s":"K","t":786.7,"v":82.2},{"s":"K","t":791.7,"v":65},{"s":"K","t":796.7,"v":83.9},{"s":"K","t":803.3,"v":92.1},{"s":"K","t":808.3,"v":92.1},{"s":"K","t":813.3,"v":96.9},{"s":"K","t":821.7,"v":90.3},{"s":"K","t":830,"v":96.2},{"s":"K","t":835,"v":89.4},{"s":"K","t":839.3,"v":75.8},{"s":"K","t":845,"v":85.8},{"s":"K","t":848.3,"v":76.8},{"s":"K","t":853.3,"v":59.6},{"s":"K","t":856.7,"v":75},{"s":"K","t":860.7,"v":93},{"s":"K","t":863.3,"v":85.8},{"s":"K","t":866.7,"v":66.9},{"s":"K","t":871.7,"v":46.1},{"s":"K","t":876.7,"v":44.3},{"s":"K","t":881.7,"v":47.9},{"s":"K","t":886.7,"v":35.3},{"s":"K","t":891.7,"v":5.6},{"s":"K","t":896.7,"v":1.1},{"s":"K","t":901.7,"v":8.3},{"s":"K","t":908.3,"v":19.1},{"s":"K","t":913.3,"v":13.7},{"s":"K","t":917.3,"v":8.3},{"s":"K","t":921.7,"v":33.5},{"s":"K","t":926.7,"v":67.8},{"s":"K","t":930,"v":74.1},{"s":"K","t":933.3,"v":69.6},{"s":"K","t":940,"v":82.2},{"s":"K","t":945,"v":85.4},{"s":"K","t":953.3,"v":85.4},{"s":"K","t":960,"v":78.6},{"s":"K","t":966.7,"v":62.3},{"s":"K","t":973.3,"v":40.7},{"s":"K","t":980,"v":20.9},{"s":"K","t":986.7,"v":15.5},{"s":"K","t":991.7,"v":15.5},{"s":"K","t":996.7,"v":29.9},{"s":"K","t":1001.7,"v":49.7},{"s":"K","t":1005,"v":62.3},{"s":"K","t":1011.7,"v":67.8},{"s":"K","t":1016.7,"v":76.8},{"s":"K","t":1023.3,"v":90.3},{"s":"K","t":1026.7,"v":88.5},{"s":"K","t":1030,"v":82.2},{"s":"K","t":1033.3,"v":74.1},{"s":"K","t":1038.3,"v":78.6},{"s":"K","t":1043.3,"v":76.8},{"s":"K","t":1048.3,"v":60.5},{"s":"K","t":1052.7,"v":60.5},{"s":"K","t":1058.3,"v":77.7},{"s":"K","t":1063.3,"v":71.4},{"s":"K","t":1068.3,"v":55.1},{"s":"K","t":1073.3,"v":29.9},{"s":"K","t":1076.7,"v":18.2},{"s":"K","t":1080,"v":28.1},{"s":"K","t":1088.3,"v":33.5},{"s":"K","t":1091.7,"v":62.3},{"s":"K","t":1095,"v":72.3},{"s":"K","t":1098.3,"v":64.1},{"s":"K","t":1103.3,"v":29.9},{"s":"K","t":1108.3,"v":16.4},{"s":"K","t":1112.7,"v":12.8},{"s":"K","t":1118.3,"v":47.9},{"s":"K","t":1123.3,"v":56.9},{"s":"K","t":1128.3,"v":80.4},{"s":"K","t":1131.7,"v":93.9},{"s":"K","t":1136,"v":94.4},
{"s":"D","t":0,"v":53.3},{"s":"D","t":6.7,"v":73.2},{"s":"D","t":11.2,"v":78.6},{"s":"D","t":15.6,"v":78.6},{"s":"D","t":24.6,"v":91.2},{"s":"D","t":29,"v":85.8},{"s":"D","t":38,"v":66},{"s":"D","t":44.6,"v":66},{"s":"D","t":58,"v":85.8},{"s":"D","t":67,"v":75.9},{"s":"D","t":78,"v":58.7},{"s":"D","t":91.5,"v":85.8},{"s":"D","t":100.4,"v":82.2},{"s":"D","t":111.6,"v":66.9},{"s":"D","t":125,"v":56},{"s":"D","t":140.6,"v":88.5},{"s":"D","t":154,"v":80.4},{"s":"D","t":160.7,"v":55.1},{"s":"D","t":169.6,"v":19.1},{"s":"D","t":176.3,"v":13.7},{"s":"D","t":183,"v":6.5},{"s":"D","t":190,"v":3.5},{"s":"D","t":205,"v":20.9},{"s":"D","t":216.5,"v":14.6},{"s":"D","t":225.4,"v":33.5},{"s":"D","t":234.4,"v":29.9},{"s":"D","t":243.3,"v":31.7},{"s":"D","t":254.5,"v":60.5},{"s":"D","t":265.6,"v":75.9},{"s":"D","t":272.3,"v":75},{"s":"D","t":285.7,"v":58.7},{"s":"D","t":294.6,"v":28.1},{"s":"D","t":301.3,"v":26.3},{"s":"D","t":308,"v":15.5},{"s":"D","t":317,"v":13.7},{"s":"D","t":328,"v":28.1},{"s":"D","t":334.8,"v":22.7},{"s":"D","t":348.2,"v":20.9},{"s":"D","t":352.7,"v":16.4},{"s":"D","t":361.6,"v":24.5},{"s":"D","t":375,"v":73.2},{"s":"D","t":381.7,"v":62.3},{"s":"D","t":388.4,"v":62.3},{"s":"D","t":399.6,"v":56.9},{"s":"D","t":413,"v":11.9},{"s":"D","t":421.9,"v":38.9},{"s":"D","t":430.8,"v":56.9},{"s":"D","t":442,"v":38.9},{"s":"D","t":450.9,"v":58.7},{"s":"D","t":459.8,"v":58.7},{"s":"D","t":471,"v":75},{"s":"D","t":482.1,"v":68.7},{"s":"D","t":488.8,"v":65},{"s":"D","t":502.2,"v":71.4},{"s":"D","t":513.4,"v":42.5},{"s":"D","t":520,"v":47.9},{"s":"D","t":535.7,"v":26.3},{"s":"D","t":542.4,"v":23.6},{"s":"D","t":549.1,"v":27.2},{"s":"D","t":562.5,"v":16.4},{"s":"D","t":571.4,"v":14.6},{"s":"D","t":584.8,"v":28.1},{"s":"D","t":598,"v":5},{"s":"D","t":607.1,"v":26.3},{"s":"D","t":613.8,"v":25.4},{"s":"D","t":627.2,"v":40.7},{"s":"D","t":638.4,"v":10.1},{"s":"D","t":647.3,"v":8.3},{"s":"D","t":654,"v":11},{"s":"D","t":665.2,"v":4},{"s":"D","t":676.3,"v":11.9},{"s":"D","t":689.7,"v":42.5},{"s":"D","t":698.7,"v":73.2},{"s":"D","t":703.3,"v":80.4},{"s":"D","t":706.7,"v":88.5},{"s":"D","t":710.7,"v":88.5},{"s":"D","t":715,"v":76.8},{"s":"D","t":720,"v":62.3},{"s":"D","t":725,"v":44.3},{"s":"D","t":728.3,"v":24.5},{"s":"D","t":733.3,"v":13.7},{"s":"D","t":740,"v":18.2},{"s":"D","t":746.7,"v":29.9},{"s":"D","t":751.7,"v":49.7},{"s":"D","t":756.7,"v":74.1},{"s":"D","t":761.7,"v":75.9},{"s":"D","t":770,"v":82.2},{"s":"D","t":778.3,"v":80.4},{"s":"D","t":785,"v":84.9},{"s":"D","t":790,"v":76.8},{"s":"D","t":794,"v":68.7},{"s":"D","t":800,"v":83.9},{"s":"D","t":806.7,"v":91.2},{"s":"D","t":815,"v":95.7},{"s":"D","t":825,"v":91.2},{"s":"D","t":833.3,"v":93},{"s":"D","t":840,"v":82.2},{"s":"D","t":846.7,"v":78.6},{"s":"D","t":855,"v":65},{"s":"D","t":860,"v":75},{"s":"D","t":864,"v":85.8},{"s":"D","t":870,"v":66.1},{"s":"D","t":875,"v":47.9},{"s":"D","t":883.3,"v":42.5},{"s":"D","t":890,"v":28.1},{"s":"D","t":896.7,"v":1.9},{"s":"D","t":903.3,"v":10.1},{"s":"D","t":910,"v":17.3},{"s":"D","t":918.3,"v":11.9},{"s":"D","t":923.3,"v":37.1},{"s":"D","t":930,"v":67.8},{"s":"D","t":936.7,"v":72.3},{"s":"D","t":945,"v":84},{"s":"D","t":953.3,"v":85.4},{"s":"D","t":963.3,"v":76.8},{"s":"D","t":970,"v":62.3},{"s":"D","t":976.7,"v":38.9},{"s":"D","t":983.3,"v":20.9},{"s":"D","t":991.7,"v":15.5},{"s":"D","t":1000,"v":29.9},{"s":"D","t":1005,"v":47.9},{"s":"D","t":1011.7,"v":61.4},{"s":"D","t":1020,"v":76.8},{"s":"D","t":1027.3,"v":87.6},{"s":"D","t":1033.3,"v":78.6},{"s":"D","t":1038.3,"v":76.8},{"s":"D","t":1045,"v":75},{"s":"D","t":1053.3,"v":61.4},{"s":"D","t":1063.3,"v":72.3},{"s":"D","t":1068.3,"v":66},{"s":"D","t":1073.3,"v":44.3},{"s":"D","t":1080,"v":24.5},{"s":"D","t":1086.7,"v":29},{"s":"D","t":1093.3,"v":53.3},{"s":"D","t":1098.3,"v":63.2},{"s":"D","t":1105,"v":38.9},{"s":"D","t":1113.3,"v":15.5},{"s":"D","t":1118.3,"v":22.7},{"s":"D","t":1125,"v":55.1},{"s":"D","t":1131.7,"v":80.4},{"s":"D","t":1136.7,"v":94.4}
]
},
"vconcat": [
{
"width": 1328,
"height": 721,
"encoding": {
"x": {"field": "t", "type": "quantitative", "scale": {"domain": [0, 1328], "nice": false, "zero": false},
"axis": {"orient": "bottom", "labels": false, "ticks": false, "domain": false, "grid": true, "values": [20,110,203,294,386,479,570,662,752,845,938,1023,1116,1207,1292], "gridColor": "#008080", "gridDash": [1,8], "gridOpacity": 1, "title": null}},
"y": {"field": "v", "type": "quantitative", "scale": {"domain": [6341.05, 6926.8], "nice": false, "zero": false},
"axis": {"orient": "right", "values": [6350,6400,6450,6500,6550,6600,6650,6700,6750,6800,6850,6900], "format": ".3f", "labelFont": "Liberation Sans", "labelFontSize": 12, "labelColor": "black", "tickColor": "black", "tickSize": 6, "labelPadding": 1, "domainColor": "#808000", "domainWidth": 2, "grid": true, "gridColor": "#008080", "gridDash": [1,3], "gridOpacity": 1, "title": null}}
},
"layer": [
{"data": {"name": "zones"}, "mark": {"type": "rect"},
 "encoding": {"x2": {"field": "t2"}, "y2": {"field": "v2"}, "color": {"field": "k", "type": "nominal", "scale": {"domain": ["m","c"], "range": ["#ff80ff","#00ffff"]}, "legend": null}}},
{"data": {"name": "ma"}, "transform": [{"filter": "datum.s === 'long'"}], "mark": {"type": "line", "color": "#c2dcc2", "strokeWidth": 6, "interpolate": "monotone"}},
{"data": {"name": "trend"}, "transform": [{"filter": "datum.k === 'g'"}], "mark": {"type": "rule", "color": "#c4c4c4", "strokeWidth": 2},
 "encoding": {"x2": {"field": "t2"}, "y2": {"field": "v2"}}},
{"data": {"name": "ma"}, "transform": [{"filter": "datum.s === 'mid'"}], "mark": {"type": "line", "color": "#ff33ff", "strokeWidth": 1, "interpolate": "monotone"}},
{"data": {"name": "candles"}, "mark": {"type": "rule", "strokeWidth": 1},
 "encoding": {"y2": {"field": "v2"}, "color": {"field": "g", "type": "nominal", "scale": {"domain": ["n","u","d"], "range": ["#000000","#0000ff","#ff0000"]}, "legend": null}}},
{"data": {"name": "candles"}, "mark": {"type": "rule", "strokeWidth": 3},
 "encoding": {"y": {"field": "o", "type": "quantitative", "axis": {"orient": "right", "values": [6350,6400,6450,6500,6550,6600,6650,6700,6750,6800,6850,6900], "format": ".3f", "labelFont": "Liberation Sans", "labelFontSize": 12, "labelColor": "black", "tickColor": "black", "tickSize": 6, "labelPadding": 1, "domainColor": "#808000", "domainWidth": 2, "grid": true, "gridColor": "#008080", "gridDash": [1,3], "gridOpacity": 1, "title": null}}, "y2": {"field": "c"}, "color": {"field": "g", "type": "nominal", "scale": {"domain": ["n","u","d"], "range": ["#000000","#0000ff","#ff0000"]}, "legend": null}}},
{"data": {"name": "ma"}, "transform": [{"filter": "datum.s === 'fast' || datum.s === 'slow'"}], "mark": {"type": "line", "strokeWidth": 2, "interpolate": "monotone"},
 "encoding": {"color": {"field": "s", "type": "nominal", "scale": {"domain": ["fast","slow"], "range": ["#0000ff","#ff0000"]}, "legend": null}}},
{"data": {"name": "trend"}, "transform": [{"filter": "datum.k !== 'g'"}], "mark": {"type": "rule", "strokeWidth": 2},
 "encoding": {"x2": {"field": "t2"}, "y2": {"field": "v2"}, "color": {"field": "k", "type": "nominal", "scale": {"domain": ["b","r"], "range": ["#0000ff","#ff0000"]}, "legend": null}}},
{"data": {"name": "fib"}, "mark": {"type": "rule", "strokeWidth": 1},
 "encoding": {"x2": {"field": "t2"}, "color": {"field": "k", "type": "nominal", "scale": {"domain": ["a","b","c","d"], "range": ["#000080","#000000","#008000","#800000"]}, "legend": null}}},
{"data": {"name": "ticks"}, "mark": {"type": "rule", "color": "#000000"},
 "encoding": {"y2": {"field": "v2"}, "strokeWidth": {"field": "w", "type": "nominal", "scale": {"domain": ["thin","thick"], "range": [3,9]}, "legend": null}}},
{"data": {"name": "uframe"}, "mark": {"type": "rule", "color": "#808000", "strokeWidth": 2},
 "encoding": {"x2": {"field": "t2"}}},
{"data": {"name": "fibtext"}, "mark": {"type": "text", "align": "left", "baseline": "middle", "fontSize": 12, "font": "Liberation Sans"},
 "encoding": {"text": {"field": "txt"}, "color": {"field": "k", "type": "nominal", "scale": {"domain": ["a","b","c","d"], "range": ["#000080","#000000","#008000","#800000"]}, "legend": null}}},
{"data": {"name": "waves"}, "mark": {"type": "text", "align": "center", "baseline": "middle", "fontSize": 13, "font": "Liberation Sans"},
 "encoding": {"text": {"field": "txt"}, "color": {"field": "k", "type": "nominal", "scale": {"domain": ["u","r"], "range": ["#1010ff","#e00000"]}, "legend": null}}},
{"data": {"name": "circles"}, "mark": {"type": "point", "shape": "circle", "filled": true, "size": 290, "fill": "#0000c0", "stroke": "#a0a0ff", "strokeWidth": 1, "opacity": 1, "clip": true}},
{"data": {"name": "circles"}, "mark": {"type": "text", "align": "center", "baseline": "middle", "fontSize": 12, "fontWeight": "bold", "color": "white", "font": "Liberation Sans", "clip": true},
 "encoding": {"text": {"field": "txt"}}},
{"data": {"name": "side"}, "mark": {"type": "text", "align": "left", "baseline": "middle", "fontSize": 11, "color": "black", "font": "Liberation Sans"},
 "encoding": {"text": {"field": "txt"}}}
],
"resolve": {"scale": {"color": "independent", "strokeWidth": "independent"}}
},
{
"width": 1328,
"height": 219,
"encoding": {
"x": {"field": "t", "type": "quantitative", "scale": {"domain": [0, 1328], "nice": false, "zero": false},
"axis": {"orient": "bottom", "labels": false, "ticks": false, "domain": false, "grid": true, "values": [20,110,203,294,386,479,570,662,752,845,938,1023,1116,1207,1292], "gridColor": "#008080", "gridDash": [1,8], "gridOpacity": 1, "title": null}},
"y": {"field": "v", "type": "quantitative", "scale": {"domain": [-10.3, 108.1], "nice": false, "zero": false},
"axis": {"orient": "right", "values": [0,50,100], "format": ".2f", "labelFont": "Liberation Sans", "labelFontSize": 12, "labelColor": "black", "tickColor": "black", "tickSize": 6, "labelPadding": 1, "domainColor": "#808000", "domainWidth": 2, "grid": true, "gridColor": "#008080", "gridDash": [1,3], "gridOpacity": 1, "title": null}}
},
"layer": [
{"data": {"name": "lframe"}, "mark": {"type": "rule", "strokeWidth": 2},
 "encoding": {"x2": {"field": "t2"}, "color": {"field": "k", "type": "nominal", "scale": {"domain": ["o","k"], "range": ["#808000","#000000"]}, "legend": null}}},
{"data": {"name": "stoch"}, "mark": {"type": "line", "strokeWidth": 1},
 "encoding": {"color": {"field": "s", "type": "nominal", "scale": {"domain": ["K","D"], "range": ["#0000ff","#ff0000"]}, "legend": null}}},
{"data": {"name": "ind"}, "mark": {"type": "rule", "color": "#0000ff", "strokeWidth": 4},
 "encoding": {"x2": {"field": "t2"}}},
{"data": {"name": "box"}, "mark": {"type": "rect", "fill": "#ffffe0", "stroke": "#000000", "strokeWidth": 1},
 "encoding": {"x2": {"field": "t2"}, "y2": {"field": "v2"}}},
{"data": {"name": "boxtext"}, "mark": {"type": "text", "align": "center", "baseline": "middle", "fontSize": 12, "color": "black", "font": "Liberation Sans"},
 "encoding": {"text": {"field": "txt"}}},
{"data": {"name": "tabs"}, "mark": {"type": "text", "align": "left", "baseline": "top", "fontSize": 11, "color": "black", "font": "Liberation Sans, Noto Sans CJK SC"},
 "encoding": {"text": {"field": "txt"}}}
],
"resolve": {"scale": {"color": "independent"}}
}
]
}
